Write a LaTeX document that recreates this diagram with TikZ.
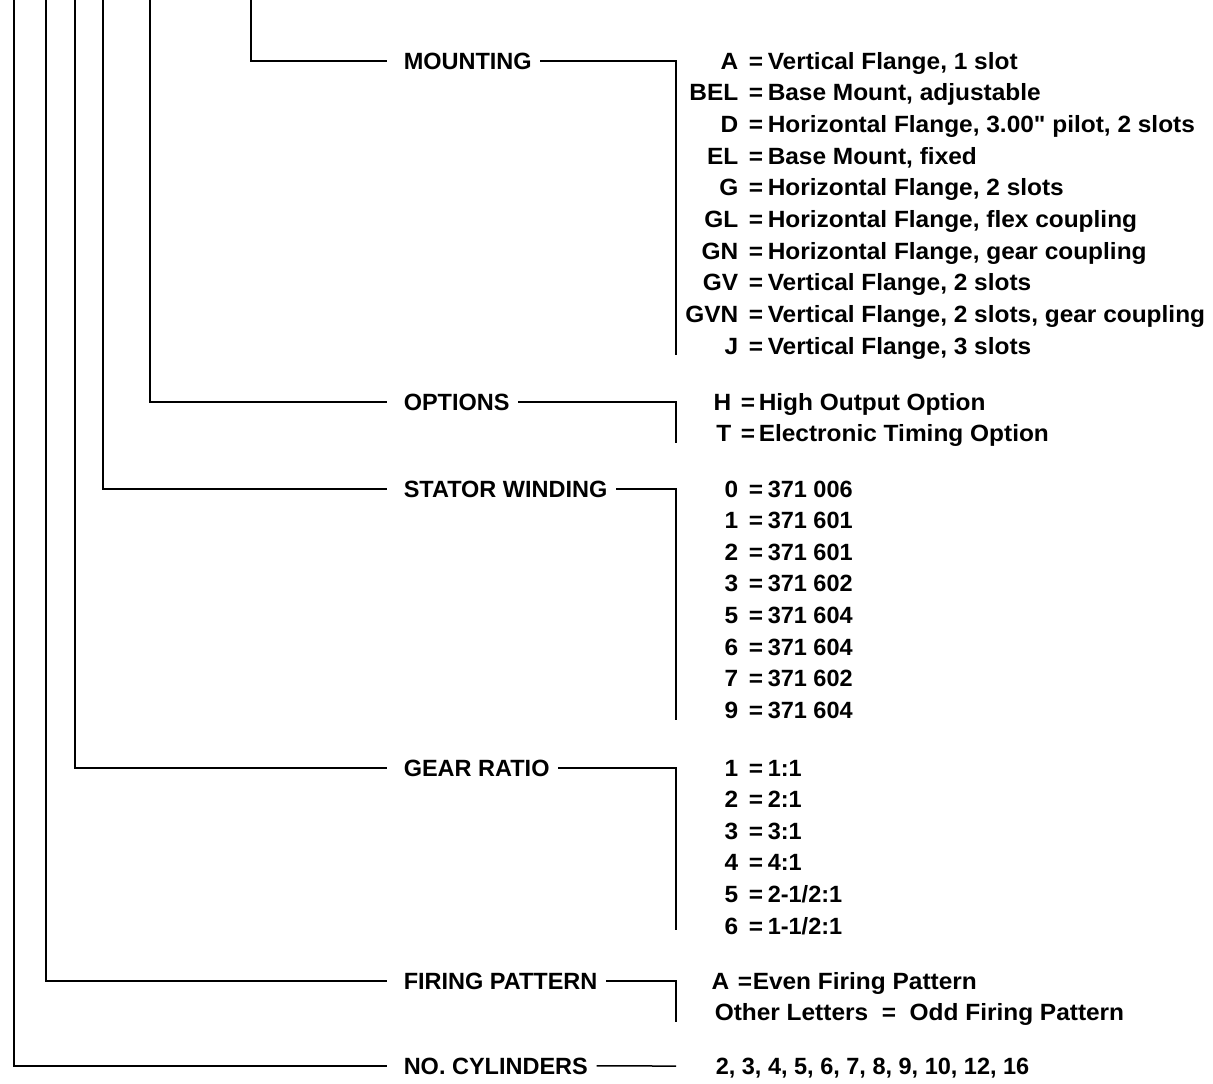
\documentclass[tikz,border=0pt]{standalone}
\usepackage{fontspec}
\setmainfont{Liberation Sans}
\newfontfamily\widefam[FakeStretch=1.04]{Liberation Sans}
\newcommand{\lblfont}{\bfseries\fontsize{11.75}{14}\selectfont}
\newcommand{\dscfont}{\widefam\bfseries\fontsize{11.75}{14}\selectfont}
\newcommand{\numfont}{\bfseries\fontsize{11.75}{14}\selectfont}
\begin{document}
\begin{tikzpicture}[x=0.5pt,y=-0.5pt, line width=0.75pt,
  lbl/.style={anchor=base west, inner xsep=4pt, inner ysep=0pt, font=\lblfont},
  code/.style={anchor=base east, inner sep=0pt, font=\dscfont},
  eqs/.style={anchor=base west, inner sep=0pt, font=\dscfont},
  desc/.style={anchor=base west, inner sep=0pt, font=\dscfont},
  num/.style={anchor=base west, inner sep=0pt, font=\numfont},
  lead/.style={shorten >=4pt}]
\useasboundingbox (0,0) rectangle (1213,1083);
% left trunk tops
\coordinate (tM) at (251,0);
\coordinate (tO) at (150,0);
\coordinate (tS) at (103,0);
\coordinate (tG) at (75,0);
\coordinate (tF) at (46,0);
\coordinate (tC) at (14,0);
% labels
\node[lbl] (mount) at (395,69) {MOUNTING};
\node[lbl] (opt) at (395,410) {OPTIONS};
\node[lbl] (stat) at (395,497) {STATOR WINDING};
\node[lbl] (gear) at (395,776) {GEAR RATIO};
\node[lbl] (fire) at (395,989) {FIRING PATTERN};
\node[lbl] (cyl) at (395,1074) {NO. CYLINDERS};
% right bracket ends
\coordinate (eM) at (676,355);
\coordinate (eO) at (676,443);
\coordinate (eS) at (676,720);
\coordinate (eG) at (676,930);
\coordinate (eF) at (676,1022);
\coordinate (eC) at (676,1066);
% left leaders
\draw[lead] (tM) |- (mount.west);
\draw[lead] (tO) |- (opt.west);
\draw[lead] (tS) |- (stat.west);
\draw[lead] (tG) |- (gear.west);
\draw[lead] (tF) |- (fire.west);
\draw[lead] (tC) |- (cyl.west);
% right brackets
\draw (mount.east) -| (eM);
\draw (opt.east) -| (eO);
\draw (stat.east) -| (eS);
\draw (gear.east) -| (eG);
\draw (fire.east) -| (eF);
\draw (cyl.east) -- (eC);
% mounting list
\foreach \c/\d [count=\i from 0] in {A/{Vertical Flange, 1 slot}, BEL/{Base Mount, adjustable}, D/{Horizontal Flange, 3.00" pilot, 2 slots}, EL/{Base Mount, fixed}, G/{Horizontal Flange, 2 slots}, GL/{Horizontal Flange, flex coupling}, GN/{Horizontal Flange, gear coupling}, GV/{Vertical Flange, 2 slots}, GVN/{Vertical Flange, 2 slots, gear coupling}, J/{Vertical Flange, 3 slots}}{
  \pgfmathsetmacro{\yy}{69+31.67*\i}
  \node[code] (mc\i) at (739,\yy) {\c};
  \node[eqs] (me\i) at (748,\yy) {=};
  \node[desc] (md\i) at (767,\yy) {\d};
}
% options
\foreach \c/\d [count=\i from 0] in {H/{High Output Option}, T/{Electronic Timing Option}}{
  \pgfmathsetmacro{\yy}{410+31.5*\i}
  \node[code] (oc\i) at (732,\yy) {\c};
  \node[eqs] (oe\i) at (740,\yy) {=};
  \node[desc] (od\i) at (758,\yy) {\d};
}
% stator winding
\foreach \c/\d [count=\i from 0] in {0/371 006, 1/371 601, 2/371 601, 3/371 602, 5/371 604, 6/371 604, 7/371 602, 9/371 604}{
  \pgfmathsetmacro{\yy}{497+31.6*\i}
  \node[code] (sc\i) at (739,\yy) {\c};
  \node[eqs] (se\i) at (748,\yy) {=};
  \node[num] (sd\i) at (767,\yy) {\d};
}
% gear ratio
\node[code] (gc0) at (739,776) {1}; \node[eqs] (ge0) at (748,776) {=}; \node[num] (gd0) at (767,776) {1:1};
\node[code] (gc1) at (739,807.6) {2}; \node[eqs] (ge1) at (748,807.6) {=}; \node[num] (gd1) at (767,807.6) {2:1};
\node[code] (gc2) at (739,839.2) {3}; \node[eqs] (ge2) at (748,839.2) {=}; \node[num] (gd2) at (767,839.2) {3:1};
\node[code] (gc3) at (739,870.8) {4}; \node[eqs] (ge3) at (748,870.8) {=}; \node[num] (gd3) at (767,870.8) {4:1};
\node[code] (gc4) at (739,902.4) {5}; \node[eqs] (ge4) at (748,902.4) {=}; \node[num] (gd4) at (767,902.4) {2-1/2:1};
\node[code] (gc5) at (739,934) {6}; \node[eqs] (ge5) at (748,934) {=}; \node[num] (gd5) at (767,934) {1-1/2:1};
% firing pattern
\node[code] (fc0) at (730,989) {A}; \node[eqs] (fe0) at (737,989) {=}; \node[desc] (fd0) at (752,989) {Even Firing Pattern};
\node[desc] (fd1) at (714,1020) {Other Letters~~=~~Odd Firing Pattern};
% cylinders
\node[num] (cd0) at (715,1074) {2, 3, 4, 5, 6, 7, 8, 9, 10, 12, 16};
\end{tikzpicture}
\end{document}
